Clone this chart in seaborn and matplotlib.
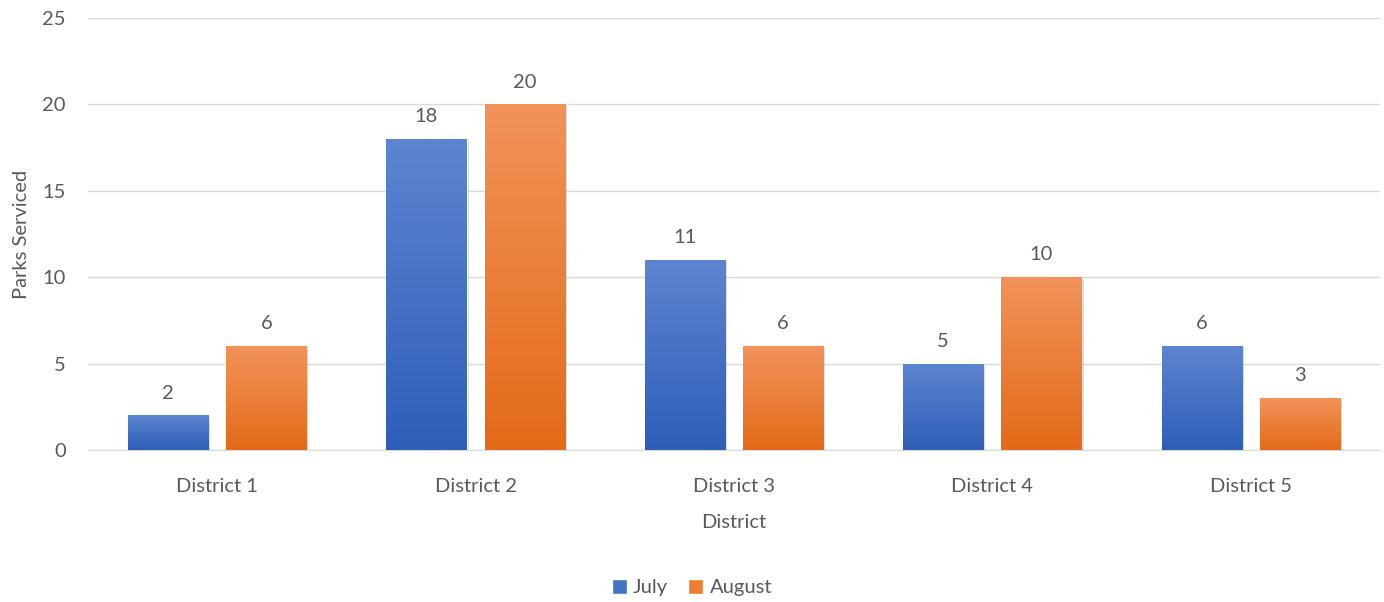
import numpy as np
import pandas as pd
import matplotlib.pyplot as plt
import matplotlib.patheffects as pe
from matplotlib.colors import LinearSegmentedColormap
from matplotlib.patches import Patch
import seaborn as sns

districts = ["District 1", "District 2", "District 3", "District 4", "District 5"]
july = [2, 18, 11, 5, 6]
august = [6, 20, 6, 10, 3]
months = ["July", "August"]

df = pd.DataFrame({
    "District": districts * 2,
    "Month": ["July"] * 5 + ["August"] * 5,
    "Parks": july + august,
})

sns.set_style("white")
plt.rcParams["font.family"] = ["Lato", "DejaVu Sans"]
text_col = "#595959"
grid_col = "#D9D9D9"
fs = 14.5
# top/bottom colours of the bar gradients
grads = {"July": ("#5D85D0", "#2E5EB8"), "August": ("#F2935A", "#E36A18")}
solid = {"July": "#4472C4", "August": "#ED7D31"}

fig = plt.figure(figsize=(13.84, 6.02), dpi=100)
ax = fig.add_axes([0.0636, 0.2525, 0.9334, 0.7175])

sns.barplot(data=df, x="District", y="Parks", hue="Month", hue_order=months,
            palette=solid, width=0.76, gap=0.184, ax=ax, legend=False, zorder=3)

# gradient fill clipped to each bar + soft shadow
for i, cont in enumerate(ax.containers):
    top, bot = grads[months[i]]
    cmap = LinearSegmentedColormap.from_list("g", [bot, top])
    for bar in cont:
        x0, y0 = bar.get_x(), bar.get_y()
        w, h = bar.get_width(), bar.get_height()
        bar.set_path_effects([pe.SimplePatchShadow(offset=(1.5, -1.5), alpha=0.18, rho=0.3), pe.Normal()])
        img = ax.imshow(np.linspace(0, 1, 256).reshape(-1, 1), cmap=cmap, origin="lower",
                        extent=[x0, x0 + w, y0, y0 + h], aspect="auto", zorder=3.5)
        img.set_clip_path(bar)
    ax.bar_label(cont, padding=10, fontsize=fs, color=text_col)

ax.set_xlim(-0.5, 4.5)
ax.set_ylim(0, 25)
ax.set_yticks(range(0, 26, 5))

ax.grid(axis="y", color=grid_col, linewidth=1, zorder=0)
sns.despine(ax=ax, left=True, right=True, top=True)
ax.spines["bottom"].set_color(grid_col)
ax.tick_params(axis="both", length=0, labelsize=fs, labelcolor=text_col)
ax.tick_params(axis="x", pad=20)
ax.tick_params(axis="y", pad=16)

ax.set_xlabel("District", fontsize=fs, color=text_col, labelpad=14)
ax.set_ylabel("Parks Serviced", fontsize=fs, color=text_col, labelpad=9)

handles = [Patch(facecolor=solid[m], label=m) for m in months]
fig.legend(handles=handles, loc="center", bbox_to_anchor=(0.5, 0.024), ncol=2, frameon=False,
           fontsize=fs, labelcolor=text_col, handlelength=0.75, handleheight=0.75,
           handletextpad=0.3, columnspacing=1.0)

fig.savefig("out.png", dpi=100)
